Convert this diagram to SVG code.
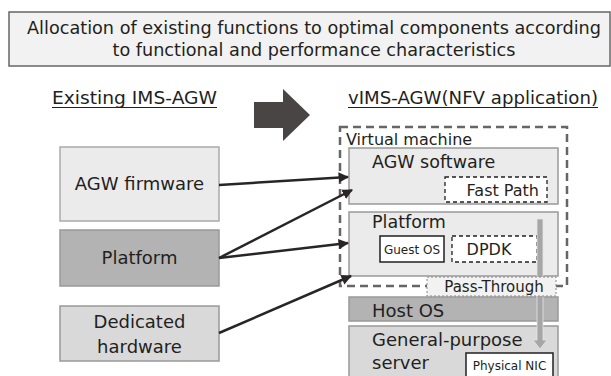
<svg xmlns="http://www.w3.org/2000/svg" width="611" height="376" viewBox="0 0 611 376">
<defs>
<style>
text{font-family:"DejaVu Sans","Noto Sans",sans-serif;fill:#231f20}
.t18{font-size:18px}
.t17{font-size:17px}
.t16{font-size:16px}
.t15{font-size:15px}
.t12{font-size:12px}
.conn{stroke:#2a2525;stroke-width:2.5;fill:none;marker-end:url(#ah)}
.ul{stroke:#231f20;stroke-width:1.2}
</style>
<marker id="ah" viewBox="0 0 10 10" refX="9" refY="5" markerWidth="4.2" markerHeight="4.2" orient="auto" markerUnits="strokeWidth">
<path d="M0,0 L10,5 L0,10 z" fill="#2a2525"/>
</marker>
</defs>
<rect width="611" height="376" fill="#fff"/>

<g id="title">
<rect x="9" y="12" width="601" height="54" fill="#f2f2f2" stroke="#666" stroke-width="1.5"/>
<text class="t17" x="314" y="34" text-anchor="middle" textLength="574" lengthAdjust="spacingAndGlyphs">Allocation of existing functions to optimal components according</text>
<text class="t17" x="314" y="56" text-anchor="middle" textLength="403" lengthAdjust="spacingAndGlyphs">to functional and performance characteristics</text>
</g>

<g id="label-existing">
<text class="t17" x="52" y="104" textLength="165" lengthAdjust="spacingAndGlyphs">Existing IMS-AGW</text>
<line class="ul" x1="52" y1="107.5" x2="217" y2="107.5"/>
</g>

<g id="label-vims">
<text class="t17" x="348" y="104" textLength="250" lengthAdjust="spacingAndGlyphs">vIMS-AGW(NFV application)</text>
<line class="ul" x1="348" y1="107.5" x2="598" y2="107.5"/>
</g>

<g id="big-arrow">
<path d="M254,102 L283,102 L283,89 L310,115 L283,141 L283,128 L254,128 z" fill="#4a4545"/>
</g>

<g id="agw-firmware">
<rect x="60" y="147" width="159" height="74" fill="#ebebeb" stroke="#aaa" stroke-width="1.5"/>
<text class="t18" x="139.5" y="190" text-anchor="middle">AGW firmware</text>
</g>

<g id="platform-left">
<rect x="60" y="230" width="159" height="56" fill="#b3b3b3" stroke="#999" stroke-width="1.5"/>
<text class="t18" x="139.5" y="264" text-anchor="middle">Platform</text>
</g>

<g id="dedicated-hardware">
<rect x="60" y="306" width="159" height="55" fill="#d9d9d9" stroke="#999" stroke-width="1.5"/>
<text class="t18" x="139.5" y="328" text-anchor="middle">Dedicated</text>
<text class="t18" x="139.5" y="353" text-anchor="middle">hardware</text>
</g>

<g id="virtual-machine">
<rect x="340" y="127" width="227" height="159" fill="none" stroke="#666" stroke-width="2.5" stroke-dasharray="8,5"/>
<text class="t16" x="346" y="145">Virtual machine</text>
</g>

<g id="agw-software">
<rect x="349" y="148" width="209" height="56" fill="#ebebeb" stroke="#999" stroke-width="1.5"/>
<text x="372" y="168" style="font-size:17.5px">AGW software</text>
</g>

<g id="fast-path">
<rect x="445" y="177" width="102" height="25" fill="#fff" stroke="#231f20" stroke-width="1.3" stroke-dasharray="4,3"/>
<text class="t16" x="539" y="196" text-anchor="end">Fast Path</text>
</g>

<g id="platform-right">
<rect x="349" y="212" width="209" height="64" fill="#ebebeb" stroke="#999" stroke-width="1.5"/>
<text x="372" y="228" style="font-size:17.5px">Platform</text>
</g>

<g id="guest-os">
<rect x="380" y="236" width="64" height="26" fill="#fff" stroke="#231f20" stroke-width="1.5"/>
<text class="t12" x="412" y="254" text-anchor="middle">Guest OS</text>
</g>

<g id="dpdk">
<rect x="452" y="236" width="85" height="26" fill="#fff" stroke="#231f20" stroke-width="1.3" stroke-dasharray="4,3"/>
<text class="t16" x="489" y="255" text-anchor="middle">DPDK</text>
</g>

<g id="host-os">
<rect x="349" y="297" width="209" height="24" fill="#b3b3b3" stroke="#999" stroke-width="1.5"/>
<text class="t18" x="372" y="317">Host OS</text>
</g>

<g id="general-purpose-server">
<rect x="349" y="326" width="209" height="60" fill="#d9d9d9" stroke="#999" stroke-width="1.5"/>
<text class="t18" x="372" y="346">General-purpose</text>
<text class="t18" x="372" y="369">server</text>
</g>

<g id="physical-nic">
<rect x="466" y="353" width="87" height="30" fill="#fff" stroke="#231f20" stroke-width="1.5"/>
<text class="t12" x="509.5" y="370" text-anchor="middle">Physical NIC</text>
</g>

<g id="pass-arrow">
<path d="M537,219 L543,219 L543,340 L547,340 L540,349 L533,340 L537,340 z" fill="#a6a6a6" stroke="#e6e6e6" stroke-width="0.8"/>
</g>

<g id="pass-through">
<rect x="427" y="277" width="129" height="19" fill="#f2f2f2" stroke="#888" stroke-width="1" stroke-dasharray="2,2"/>
<text class="t15" x="494" y="292" text-anchor="middle">Pass-Through</text>
</g>

<g id="connectors">
<line class="conn" x1="219" y1="185" x2="348" y2="177"/>
<line class="conn" x1="219" y1="258" x2="352" y2="190"/>
<line class="conn" x1="219" y1="258" x2="348" y2="243"/>
<line class="conn" x1="219" y1="333" x2="351" y2="276"/>
</g>
</svg>
